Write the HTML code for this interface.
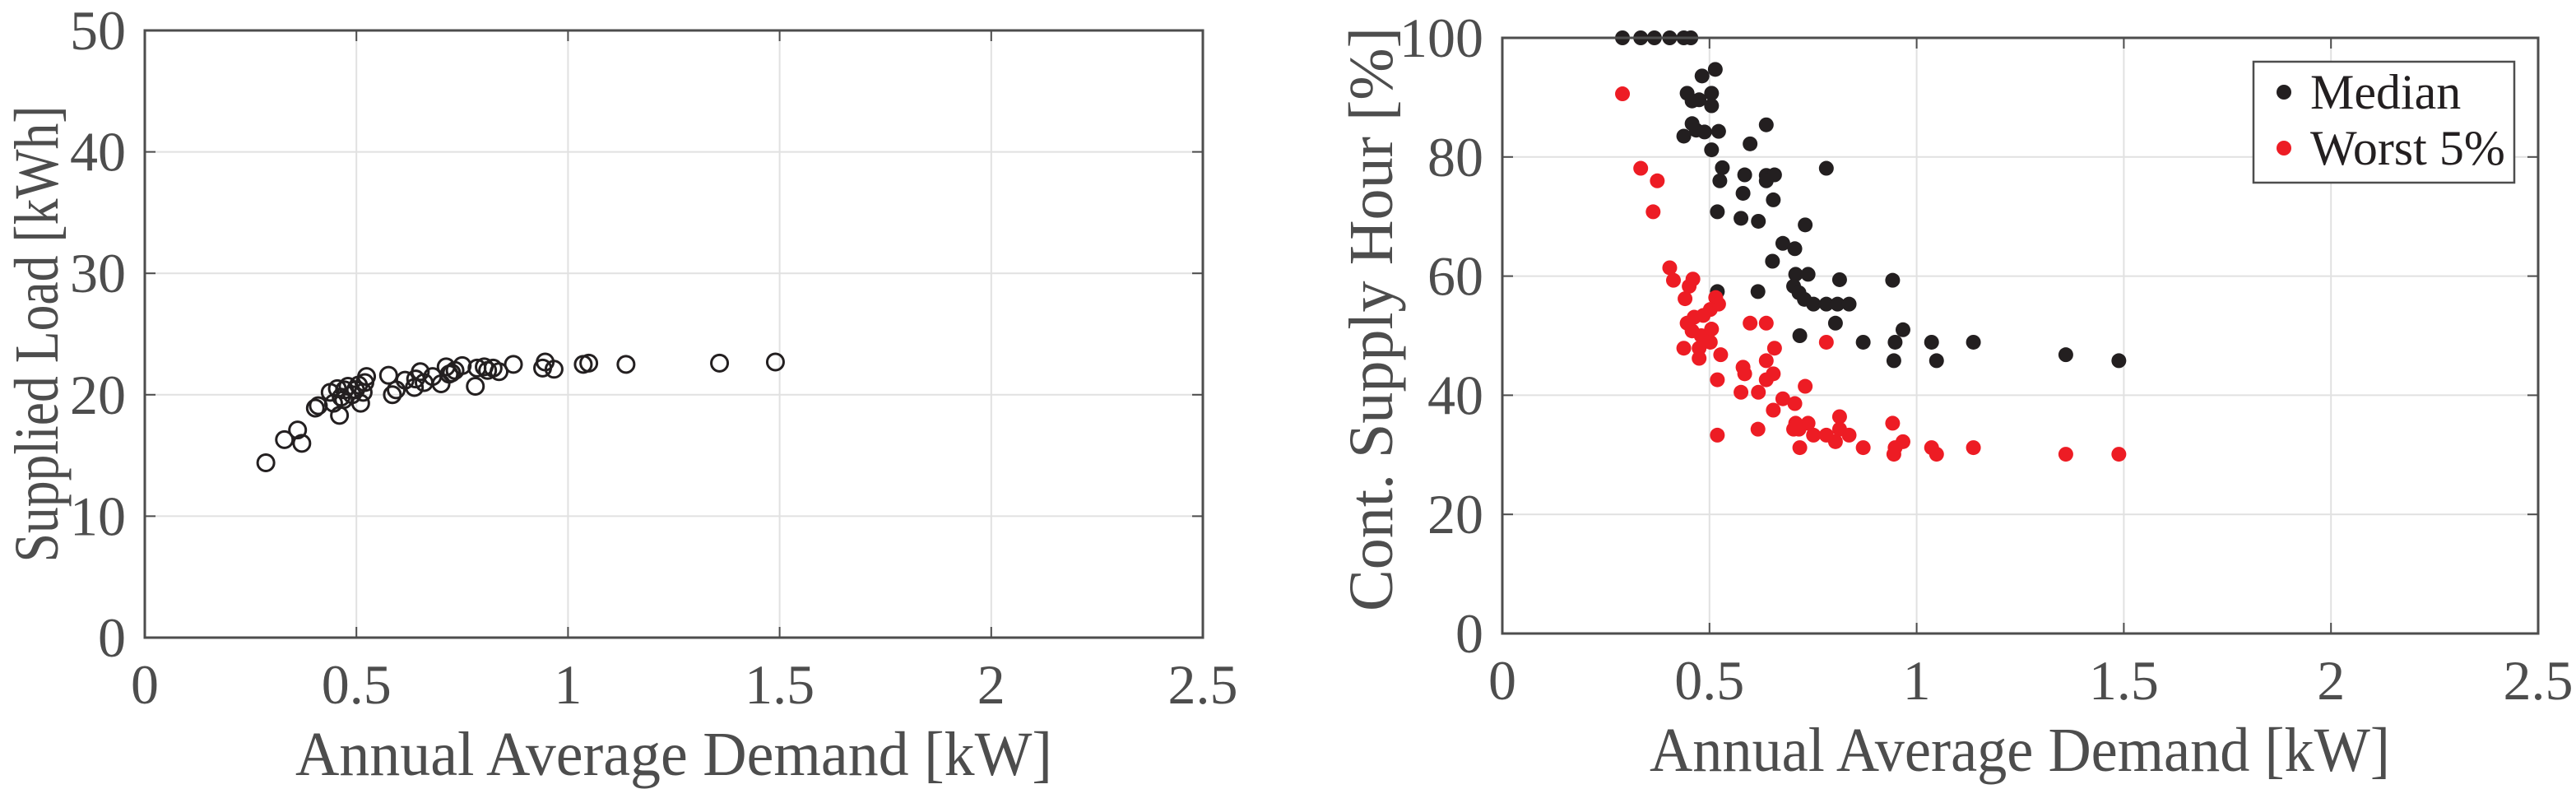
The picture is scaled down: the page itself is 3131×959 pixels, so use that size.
<!DOCTYPE html>
<html><head><meta charset="utf-8"><style>
html,body{margin:0;padding:0;background:#fff;}
svg{display:block;}
svg text{font-family:"Liberation Serif","DejaVu Serif","Times New Roman",Times,serif;}
</style></head><body>
<svg id="chart" width="3131" height="959" viewBox="0 0 3131 959" xmlns="http://www.w3.org/2000/svg">
</svg>
<script>
// Left plot data
const loadDemand = [0.286,0.33,0.361,0.371,0.403,0.41,0.438,0.446,0.46,0.464,0.472,0.48,0.49,0.498,0.51,0.516,0.52,0.524,0.576,0.585,0.594,0.615,0.637,0.651,0.66,0.68,0.7,0.712,0.719,0.733,0.75,0.781,0.785,0.802,0.81,0.823,0.837,0.871,0.94,0.946,0.967,1.036,1.049,1.137,1.358,1.49,0.455,0.47,0.505,0.64,0.725];
const suppliedLoad = [14.4,16.3,17.1,16.0,18.9,19.1,20.2,19.3,18.3,19.8,20.4,20.7,20.0,20.4,19.3,20.2,21.0,21.5,21.6,20.0,20.4,21.2,20.6,21.9,21.0,21.5,20.9,22.3,21.7,22.0,22.4,20.7,22.2,22.3,22.0,22.2,21.9,22.5,22.2,22.7,22.1,22.5,22.6,22.5,22.6,22.7,20.5,19.6,20.8,21.3,21.8];
// Right plot data
const medDemand = [0.29,0.334,0.367,0.404,0.438,0.455,0.514,0.482,0.446,0.458,0.475,0.505,0.505,0.458,0.468,0.488,0.522,0.438,0.637,0.598,0.505,0.782,0.531,0.585,0.637,0.657,0.525,0.637,0.581,0.654,0.519,0.576,0.618,0.731,0.677,0.706,0.652,0.708,0.738,0.814,0.942,0.703,0.716,0.519,0.617,0.729,0.751,0.782,0.809,0.837,0.804,0.967,0.718,0.871,0.948,1.036,1.137,1.36,0.945,1.048,1.488];
const medHour = [100,100,100,100,100,100,94.7,93.6,90.7,89.4,89.6,90.7,88.6,85.6,84.5,84.2,84.3,83.5,85.4,82.2,81.2,78.1,78.2,77.0,76.9,77.0,76.0,76.0,73.9,72.8,70.8,69.7,69.2,68.6,65.5,64.6,62.5,60.3,60.3,59.4,59.3,58.3,57.2,57.4,57.4,56.1,55.3,55.3,55.3,55.3,52.1,51.0,50.0,48.9,48.9,48.9,48.9,46.8,45.8,45.8,45.8];
const worstDemand = [0.29,0.334,0.374,0.364,0.404,0.413,0.46,0.451,0.441,0.515,0.522,0.502,0.485,0.463,0.446,0.458,0.505,0.48,0.502,0.475,0.438,0.475,0.527,0.598,0.637,0.657,0.782,0.637,0.581,0.585,0.654,0.637,0.519,0.731,0.576,0.618,0.677,0.706,0.654,0.708,0.738,0.814,0.942,0.703,0.716,0.814,0.617,0.519,0.751,0.782,0.837,0.804,0.967,0.718,0.871,0.948,1.036,1.137,0.945,1.048,1.36,1.488];
const worstHour = [90.6,78.1,76.0,70.8,61.4,59.3,59.5,58.3,56.2,56.4,55.3,54.4,53.4,53.1,52.1,50.8,51.1,50.0,48.9,47.9,47.9,46.2,46.8,52.1,52.1,47.9,48.9,45.8,44.7,43.6,43.6,42.6,42.6,41.5,40.5,40.5,39.4,38.6,37.5,35.3,35.3,36.4,35.3,34.3,34.3,34.3,34.3,33.3,33.3,33.3,33.3,32.2,32.2,31.2,31.2,31.2,31.2,31.2,30.1,30.1,30.1,30.1];
const xTicks = [0,0.5,1,1.5,2,2.5];
const xTickLabels = ["0","0.5","1","1.5","2","2.5"];
const yTicksL = [0,10,20,30,40,50];
const yTicksR = [0,20,40,60,80,100];

const NS = "http://www.w3.org/2000/svg";
const svg = document.getElementById('chart');
const SERIF = '"Liberation Serif", "DejaVu Serif", "Times New Roman", Times, serif';
function mk(tag, attrs, parent){
  const e=document.createElementNS(NS,tag);
  for(const k in attrs)e.setAttribute(k,attrs[k]);
  if(tag==='text'){e.style.fontFamily=SERIF;}
  (parent||svg).appendChild(e);return e;
}

function drawAxes(P, yTicks, yMax, prefix){
  const sx=v=>P.l+(v/2.5)*(P.r-P.l), sy=v=>P.b-(v/yMax)*(P.b-P.t);
  const g=mk('g',{});
  
  
  mk('rect',{x:P.l,y:P.t,width:P.r-P.l,height:P.b-P.t,fill:'#fff'},g);
  xTicks.forEach((t,i)=>{
    const x=sx(t);
    if(i>0&&i<xTicks.length-1){
      const gl=mk('line',{x1:x,x2:x,y1:P.t,y2:P.b,stroke:'#e1e1e1','stroke-width':2},g);
      
      
      mk('line',{x1:x,x2:x,y1:P.b,y2:P.b-13,stroke:'#4d4d4d','stroke-width':2},g);
      mk('line',{x1:x,x2:x,y1:P.t,y2:P.t+13,stroke:'#4d4d4d','stroke-width':2},g);
    }
    const tl=mk('text',{x:x,y:P.b+80,'font-size':68,fill:'#4d4d4d','text-anchor':'middle'},g);
    tl.textContent=xTickLabels[i];
    
    
  });
  yTicks.forEach((t,i)=>{
    const y=sy(t);
    if(i>0&&i<yTicks.length-1){
      const gl=mk('line',{x1:P.l,x2:P.r,y1:y,y2:y,stroke:'#e1e1e1','stroke-width':2},g);
      
      
      mk('line',{x1:P.l,x2:P.l+13,y1:y,y2:y,stroke:'#4d4d4d','stroke-width':2},g);
      mk('line',{x1:P.r,x2:P.r-13,y1:y,y2:y,stroke:'#4d4d4d','stroke-width':2},g);
    }
    const tl=mk('text',{x:P.l-23,y:y+23,'font-size':68,fill:'#4d4d4d','text-anchor':'end'},g);
    tl.textContent=String(t);
    
    
  });
  return {sx,sy,g};
}

// Left plot
const PL={l:176,r:1462,t:37,b:775};
const A=drawAxes(PL,yTicksL,50,'left');
loadDemand.forEach((d,i)=>{
  const c=mk('circle',{cx:A.sx(d),cy:A.sy(suppliedLoad[i]),r:10,fill:'none',stroke:'#231f20','stroke-width':3});
  
  
});
mk('rect',{x:PL.l,y:PL.t,width:PL.r-PL.l,height:PL.b-PL.t,fill:'none',stroke:'#4d4d4d','stroke-width':3});
let t=mk('text',{x:819,y:942,'font-size':76,fill:'#4d4d4d','text-anchor':'middle',textLength:920,lengthAdjust:'spacingAndGlyphs'});
t.textContent='Annual Average Demand [kW]';


t=mk('text',{x:0,y:0,'font-size':76,fill:'#4d4d4d','text-anchor':'middle',transform:'translate(70,406) rotate(-90)',textLength:555,lengthAdjust:'spacingAndGlyphs'});
t.textContent='Supplied Load [kWh]';



// Right plot
const PR={l:1826,r:3085,t:46,b:770};
const B=drawAxes(PR,yTicksR,100,'right');
medDemand.forEach((d,i)=>{
  const c=mk('circle',{cx:B.sx(d),cy:B.sy(medHour[i]),r:9,fill:'#231f20'});
  
  
});
worstDemand.forEach((d,i)=>{
  const c=mk('circle',{cx:B.sx(d),cy:B.sy(worstHour[i]),r:9,fill:'#ed1c24'});
  
  
});
mk('rect',{x:PR.l,y:PR.t,width:PR.r-PR.l,height:PR.b-PR.t,fill:'none',stroke:'#4d4d4d','stroke-width':3});
t=mk('text',{x:2455,y:937,'font-size':76,fill:'#4d4d4d','text-anchor':'middle',textLength:900,lengthAdjust:'spacingAndGlyphs'});
t.textContent='Annual Average Demand [kW]';


t=mk('text',{x:0,y:0,'font-size':76,fill:'#4d4d4d','text-anchor':'middle',transform:'translate(1692,388) rotate(-90)',textLength:710,lengthAdjust:'spacingAndGlyphs'});
t.textContent='Cont. Supply Hour [%]';



// Legend
const lg=mk('g',{});


mk('rect',{x:2739,y:75,width:317,height:147,fill:'#fff',stroke:'#4d4d4d','stroke-width':2.5},lg);
const e1=mk('circle',{cx:2776,cy:112,r:9,fill:'#231f20'},lg);


t=mk('text',{x:2808,y:132,'font-size':60,fill:'#231f20'},lg);
t.textContent='Median';


const e2=mk('circle',{cx:2776,cy:180,r:9,fill:'#ed1c24'},lg);


t=mk('text',{x:2808,y:200,'font-size':60,fill:'#231f20'},lg);
t.textContent='Worst 5%';


</script>
</body></html>
